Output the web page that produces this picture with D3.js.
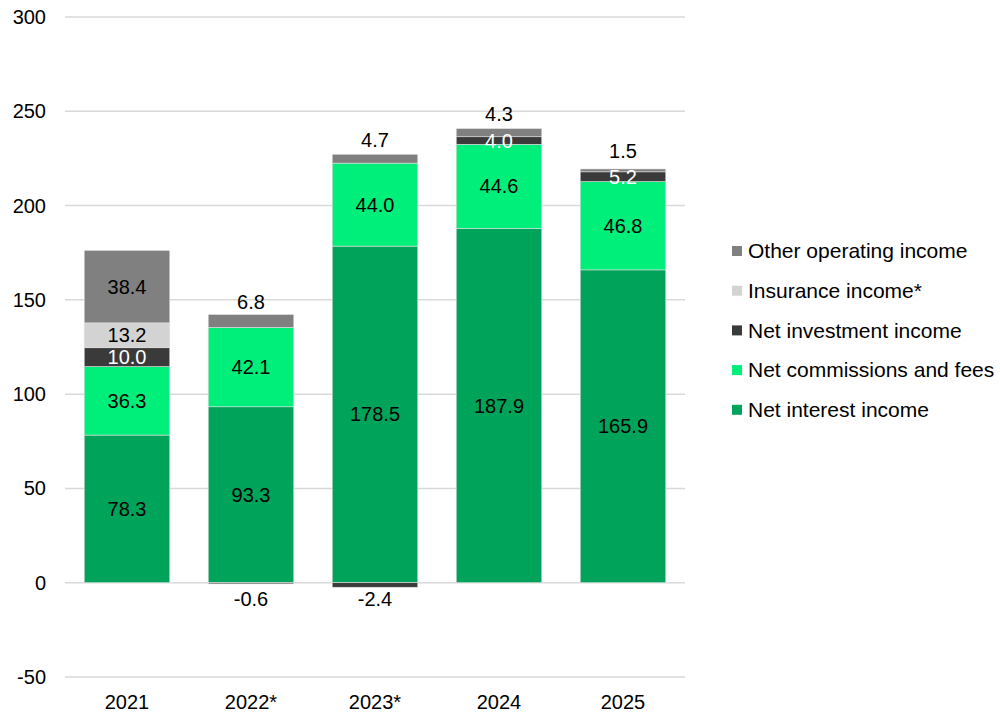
<!DOCTYPE html>
<head>
  <meta charset="utf-8">
  <script src="https://d3js.org/d3.v7.min.js"></script>
  <style>
    body { margin: 0; background: #fff; }
    text { font-family: "Liberation Sans", Arial, sans-serif; }
    .grid line { stroke: #d9d9d9; stroke-width: 1.5; }
    .axis text { font-size: 20px; fill: #000; }
    .lbl { font-size: 20px; }
    .legend text { font-size: 21px; fill: #000; }
  </style>
</head>
<body>
<script>
  var years = ["2021", "2022*", "2023*", "2024", "2025"];
  var netInterest    = [78.3, 93.3, 178.5, 187.9, 165.9];
  var netCommissions = [36.3, 42.1, 44.0, 44.6, 46.8];
  var netInvestment  = [10.0, -0.6, -2.4, 4.0, 5.2];
  var insurance      = [13.2, 0, 0, 0, 0];
  var otherIncome    = [38.4, 6.8, 4.7, 4.3, 1.5];
  var yTicks = [-50, 0, 50, 100, 150, 200, 250, 300];

  var series = [
    { name: "Net interest income", values: netInterest, color: "#00a35a", text: "#000" },
    { name: "Net commissions and fees", values: netCommissions, color: "#00ee7a", text: "#000" },
    { name: "Net investment income", values: netInvestment, color: "#3a3a3a", text: "#fff" },
    { name: "Insurance income*", values: insurance, color: "#d3d3d3", text: "#000" },
    { name: "Other operating income", values: otherIncome, color: "#808080", text: "#000" }
  ];

  var width = 1000, height = 712;
  var svg = d3.select("body").append("svg")
      .attr("width", width)
      .attr("height", height);

  var x = d3.scaleBand().domain(years).range([65, 685]).paddingInner(0.31).paddingOuter(0.155);
  var y = d3.scaleLinear().domain([-50, 300]).range([677, 17]);

  // gridlines
  svg.append("g").attr("class", "grid")
    .selectAll("line").data(yTicks).enter().append("line")
      .attr("x1", 65).attr("x2", 685)
      .attr("y1", function(d) { return y(d); })
      .attr("y2", function(d) { return y(d); });

  // y labels
  svg.append("g").attr("class", "axis")
    .selectAll("text").data(yTicks).enter().append("text")
      .attr("x", 46)
      .attr("y", function(d) { return y(d); })
      .attr("dy", "0.35em")
      .attr("text-anchor", "end")
      .text(function(d) { return d; });

  // x labels
  svg.append("g").attr("class", "axis")
    .selectAll("text").data(years).enter().append("text")
      .attr("x", function(d) { return x(d) + x.bandwidth() / 2; })
      .attr("y", 702)
      .attr("dy", "0.35em")
      .attr("text-anchor", "middle")
      .text(function(d) { return d; });

  // stack segments
  var segs = [];
  years.forEach(function(yr, i) {
    var pos = 0, neg = 0;
    series.forEach(function(s) {
      var v = s.values[i];
      if (!v) return;
      var y0, y1;
      if (v >= 0) { y0 = pos; y1 = pos + v; pos = y1; }
      else { y0 = neg + v; y1 = neg; neg = y0; }
      segs.push({ year: yr, s: s, v: v, y0: y0, y1: y1 });
    });
  });

  svg.append("g").selectAll("rect").data(segs).enter().append("rect")
      .attr("x", function(d) { return x(d.year); })
      .attr("width", x.bandwidth())
      .attr("y", function(d) { return y(d.y1); })
      .attr("height", function(d) { return y(d.y0) - y(d.y1); })
      .attr("fill", function(d) { return d.s.color; })
      .attr("stroke", "#e0e0e0")
      .attr("stroke-width", 0.6);

  svg.append("g").selectAll("text").data(segs).enter().append("text")
      .attr("class", "lbl")
      .attr("x", function(d) { return x(d.year) + x.bandwidth() / 2; })
      .attr("y", function(d) {
        if (d.v < 0) return y(0) + 16;
        if (d.s.name === "Other operating income" && d.v < 10) return y((d.y0 + d.y1) / 2) - 19;
        return y((d.y0 + d.y1) / 2);
      })
      .attr("dy", "0.35em")
      .attr("text-anchor", "middle")
      .attr("fill", function(d) {
        if (d.v < 0) return "#000";
        return d.s.text;
      })
      .text(function(d) { return d.v.toFixed(1); });

  // legend
  var legend = svg.append("g").attr("class", "legend");
  var legItems = series.slice().reverse();
  var li = legend.selectAll("g").data(legItems).enter().append("g")
      .attr("transform", function(d, i) { return "translate(732," + (251 + i * 39.7) + ")"; });
  li.append("rect").attr("x", 0).attr("y", -5).attr("width", 10).attr("height", 10)
      .attr("fill", function(d) { return d.color; });
  li.append("text").attr("x", 16).attr("dy", "0.35em").text(function(d) { return d.name; });
</script>
</body>
